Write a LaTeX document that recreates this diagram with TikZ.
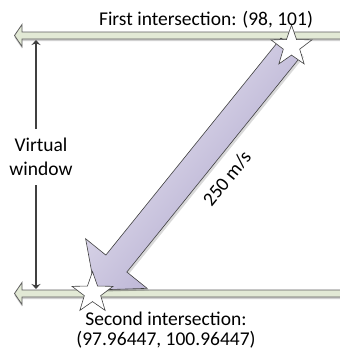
\documentclass[tikz,border=0pt]{standalone}
\usepackage{fontspec}
\setmainfont{Carlito}
\usetikzlibrary{shapes.geometric,arrows.meta,calc,shadows}
\definecolor{barfill}{HTML}{E2E9D5}
\definecolor{barline}{HTML}{5E5E5E}
\definecolor{arrowlight}{HTML}{EEEBF5}
\definecolor{arrowdark}{HTML}{A79FC8}
\definecolor{ink}{HTML}{404040}
\begin{document}
\begin{tikzpicture}[x=1pt,y=-1pt,
  bar/.style={fill=barfill,draw=barline,line width=0.8pt,
    drop shadow={shadow xshift=0pt,shadow yshift=-2pt,fill=black,opacity=0.18}},
  bigarrow/.style={draw=ink,line width=0.6pt,shading=axis,
    bottom color=arrowlight,top color=arrowdark,shading angle=231,
    drop shadow={shadow xshift=2pt,shadow yshift=-2pt,fill=black,opacity=0.15}},
  starmark/.style={star,star points=5,star point ratio=2.5,minimum size=43pt,
    inner sep=0pt,draw=ink,fill=white,line width=0.6pt},
  dim/.style={draw=ink,line width=1.1pt,-{Stealth[length=5pt,width=9pt]}},
  lbl/.style={font=\fontsize{19.5}{23.5}\selectfont,inner sep=0pt,text=black}]
\useasboundingbox (0,0) rectangle (340,351);
\clip (0,0) rectangle (340,351);

% the two horizontal paths (block arrows pointing left)
\draw[bar] (345,32) -- (22,32) -- (22,24.5) -- (14.5,35.5) -- (22,46.5) -- (22,39) -- (345,39) -- cycle;
\draw[bar] (345,290) -- (22,290) -- (22,282.5) -- (14.5,293.5) -- (22,304.5) -- (22,297) -- (345,297) -- cycle;

% window height marker
\coordinate (vtop) at (36,40);
\coordinate (vbot) at (36,289);
\coordinate (gapTop) at (36,129);
\coordinate (gapBot) at (36,185);
\node[lbl,align=center] (win) at (41,157) {Virtual\\window};
\draw[dim] (gapTop) -- (vtop);
\draw[dim] (gapBot) -- (vbot);

% flight vector between the intersections
\coordinate (cA) at (291.5,46.5);
\coordinate (cB) at (92.5,293);
\coordinate (tip) at (95,290);
\coordinate (hb) at ($(tip)!34pt!(cA)$);
\path[bigarrow] ($(cA)!13.5pt!90:(tip)$) -- ($(hb)!13.5pt!90:(tip)$) -- ($(hb)!39.5pt!90:(tip)$)
  -- (tip) -- ($(hb)!39.5pt!-90:(tip)$) -- ($(hb)!13.5pt!-90:(tip)$) -- ($(cA)!13.5pt!-90:(tip)$) -- cycle;
\node[lbl,rotate=51] (speed) at (227,178.5) {250 m/s};

% intersection markers
\node[starmark] (starA) at (cA) {};
\node[starmark] (starB) at (cB) {};

% captions
\node[lbl,anchor=base] (first) at (206,25) {First intersection: (98, 101)};
\node[lbl,align=center,anchor=north,font=\fontsize{19.5}{20}\selectfont] (second) at (166,312) {Second intersection:\\(97.96447, 100.96447)};
\end{tikzpicture}
\end{document}
